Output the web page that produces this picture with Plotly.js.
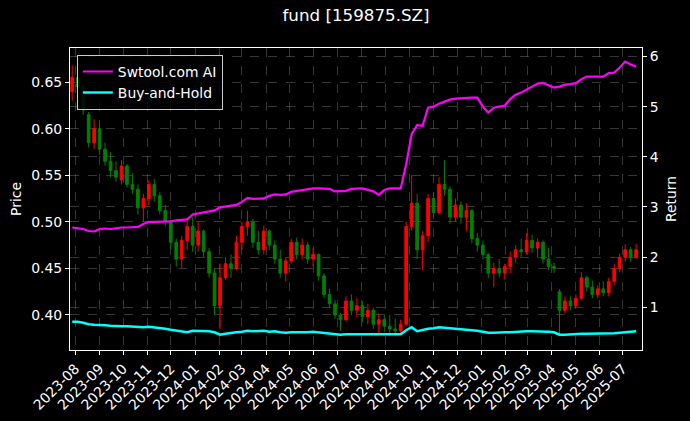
<!DOCTYPE html>
<html>
<head>
<meta charset="utf-8">
<script src="https://cdn.plot.ly/plotly-3.0.1.min.js"></script>
<style>html,body{margin:0;padding:0;background:#000;}#chart{width:690px;height:421px;}</style>
</head>
<body>
<div id="chart"></div>
<script>
const dates = [
"2023-07-28","2023-08-04","2023-08-11","2023-08-18","2023-08-25","2023-09-01","2023-09-08","2023-09-15","2023-09-22","2023-09-29",
"2023-10-06","2023-10-13","2023-10-20","2023-10-27","2023-11-03","2023-11-10","2023-11-17","2023-11-24","2023-12-01","2023-12-08",
"2023-12-15","2023-12-22","2023-12-29","2024-01-05","2024-01-12","2024-01-19","2024-01-26","2024-02-02","2024-02-09","2024-02-16",
"2024-02-23","2024-03-01","2024-03-08","2024-03-15","2024-03-22","2024-03-29","2024-04-05","2024-04-12","2024-04-19","2024-04-26",
"2024-05-03","2024-05-10","2024-05-17","2024-05-24","2024-05-31","2024-06-07","2024-06-14","2024-06-21","2024-06-28","2024-07-05",
"2024-07-12","2024-07-19","2024-07-26","2024-08-02","2024-08-09","2024-08-16","2024-08-23","2024-08-30","2024-09-06","2024-09-13",
"2024-09-20","2024-09-27","2024-10-04","2024-10-11","2024-10-18","2024-10-25","2024-11-01","2024-11-08","2024-11-15","2024-11-22",
"2024-11-29","2024-12-06","2024-12-13","2024-12-20","2024-12-27","2025-01-03","2025-01-10","2025-01-17","2025-01-24","2025-01-31",
"2025-02-07","2025-02-14","2025-02-21","2025-02-28","2025-03-07","2025-03-14","2025-03-21","2025-03-28","2025-04-04","2025-04-11",
"2025-04-18","2025-04-25","2025-05-02","2025-05-09","2025-05-16","2025-05-23","2025-05-30","2025-06-06","2025-06-13","2025-06-20",
"2025-06-27","2025-07-04","2025-07-11","2025-07-18"];

const openP = [
0.640,0.655,0.645,0.615,0.585,0.600,0.578,0.565,0.555,0.545,
0.560,0.540,0.535,0.515,0.525,0.540,0.528,0.512,0.500,0.478,
0.460,0.480,0.495,0.475,0.490,0.468,0.445,0.410,0.440,0.455,
0.450,0.478,0.495,0.500,0.478,0.470,0.490,0.475,0.460,0.445,
0.458,0.478,0.465,0.475,0.460,0.465,0.442,0.422,0.412,0.400,
0.395,0.415,0.405,0.410,0.398,0.405,0.390,0.395,0.388,0.385,
0.383,0.390,0.495,0.520,0.470,0.485,0.525,0.510,0.540,0.535,
0.505,0.518,0.505,0.512,0.482,0.475,0.465,0.445,0.450,0.445,
0.452,0.462,0.470,0.468,0.480,0.472,0.478,0.460,0.452,0.425,
0.405,0.415,0.410,0.418,0.440,0.430,0.422,0.428,0.424,0.436,
0.450,0.462,0.470,0.462];

const highP = [
0.668,0.670,0.648,0.618,0.610,0.607,0.585,0.575,0.565,0.566,
0.562,0.552,0.540,0.530,0.545,0.546,0.532,0.518,0.502,0.482,
0.485,0.505,0.505,0.500,0.492,0.472,0.450,0.455,0.462,0.465,
0.485,0.500,0.512,0.503,0.490,0.496,0.492,0.480,0.470,0.462,
0.482,0.483,0.482,0.478,0.472,0.466,0.445,0.428,0.416,0.402,
0.420,0.422,0.418,0.415,0.412,0.408,0.402,0.400,0.400,0.396,
0.395,0.500,0.550,0.530,0.490,0.530,0.532,0.548,0.566,0.538,
0.525,0.522,0.520,0.514,0.488,0.480,0.466,0.456,0.460,0.455,
0.468,0.475,0.482,0.488,0.486,0.482,0.480,0.472,0.456,0.428,
0.420,0.420,0.422,0.446,0.442,0.437,0.432,0.436,0.440,0.455,
0.466,0.476,0.473,0.476];

const lowP = [
0.630,0.640,0.615,0.580,0.578,0.572,0.560,0.548,0.543,0.540,
0.537,0.530,0.508,0.500,0.518,0.522,0.508,0.495,0.470,0.452,
0.450,0.470,0.468,0.468,0.462,0.440,0.400,0.385,0.438,0.440,
0.448,0.470,0.485,0.472,0.465,0.465,0.470,0.455,0.440,0.436,
0.455,0.460,0.460,0.455,0.452,0.437,0.418,0.408,0.396,0.383,
0.393,0.400,0.398,0.392,0.390,0.385,0.380,0.382,0.378,0.378,
0.380,0.388,0.490,0.460,0.448,0.478,0.505,0.508,0.528,0.498,
0.500,0.498,0.490,0.477,0.468,0.460,0.440,0.430,0.440,0.438,
0.445,0.456,0.462,0.465,0.467,0.462,0.455,0.448,0.445,0.380,
0.402,0.405,0.408,0.416,0.425,0.418,0.418,0.420,0.420,0.432,
0.446,0.457,0.457,0.460];

const closeP = [
0.655,0.645,0.620,0.585,0.600,0.578,0.565,0.555,0.548,0.560,
0.540,0.535,0.515,0.525,0.540,0.528,0.512,0.500,0.478,0.460,
0.480,0.495,0.475,0.490,0.468,0.445,0.410,0.440,0.455,0.450,
0.478,0.495,0.500,0.478,0.470,0.490,0.475,0.460,0.445,0.458,
0.478,0.465,0.475,0.460,0.465,0.442,0.422,0.412,0.400,0.395,
0.415,0.405,0.410,0.398,0.405,0.390,0.395,0.388,0.385,0.383,
0.390,0.495,0.520,0.470,0.485,0.525,0.510,0.540,0.535,0.505,
0.518,0.505,0.512,0.482,0.475,0.465,0.445,0.450,0.445,0.452,
0.462,0.470,0.468,0.480,0.472,0.478,0.460,0.452,0.450,0.405,
0.415,0.410,0.418,0.440,0.430,0.422,0.428,0.424,0.436,0.450,
0.462,0.470,0.462,0.470];

const aiReturn = [
2.59,2.58,2.56,2.52,2.51,2.56,2.57,2.56,2.58,2.59,
2.59,2.60,2.60,2.66,2.70,2.70,2.70,2.71,2.71,2.73,
2.74,2.75,2.85,2.87,2.90,2.91,2.93,2.99,3.01,3.02,
3.04,3.10,3.18,3.16,3.16,3.17,3.22,3.25,3.24,3.25,
3.30,3.32,3.34,3.36,3.37,3.37,3.37,3.36,3.31,3.31,
3.32,3.36,3.37,3.37,3.34,3.31,3.24,3.34,3.37,3.37,
3.37,3.85,4.45,4.63,4.62,4.98,5.00,5.06,5.10,5.14,
5.16,5.17,5.18,5.18,5.18,5.00,4.88,4.98,5.00,5.02,
5.15,5.24,5.28,5.34,5.40,5.46,5.47,5.42,5.38,5.40,
5.44,5.45,5.47,5.55,5.60,5.60,5.60,5.60,5.67,5.68,
5.78,5.90,5.84,5.80];

const bhReturn = [
0.71,0.71,0.69,0.66,0.65,0.65,0.64,0.63,0.62,0.62,
0.62,0.61,0.60,0.60,0.61,0.60,0.58,0.57,0.55,0.53,
0.52,0.50,0.53,0.53,0.52,0.52,0.50,0.45,0.47,0.49,
0.50,0.51,0.53,0.52,0.53,0.53,0.51,0.52,0.50,0.49,
0.50,0.50,0.49,0.50,0.51,0.50,0.48,0.47,0.46,0.45,
0.46,0.46,0.46,0.46,0.46,0.46,0.46,0.46,0.45,0.45,
0.46,0.54,0.60,0.52,0.55,0.57,0.58,0.60,0.59,0.58,
0.57,0.56,0.56,0.54,0.53,0.51,0.49,0.49,0.50,0.50,
0.50,0.51,0.51,0.52,0.52,0.52,0.51,0.51,0.50,0.45,
0.45,0.46,0.46,0.47,0.47,0.47,0.47,0.47,0.47,0.48,
0.49,0.50,0.51,0.52];

const priceTicks = [0.40,0.45,0.50,0.55,0.60,0.65];
const returnTicks = [1,2,3,4,5,6];

const FONT = "DejaVu Sans";
const gridColor = "rgba(150,150,150,0.45)";

const traces = [
  {
    type: "candlestick", x: dates, open: openP, high: highP, low: lowP, close: closeP,
    xaxis: "x", yaxis: "y", showlegend: false, hoverinfo: "skip",
    increasing: {line: {color: "#ff0000", width: 1}, fillcolor: "#ff0000"},
    decreasing: {line: {color: "#008000", width: 1}, fillcolor: "#008000"},
    whiskerwidth: 0
  },
  {
    type: "scatter", mode: "lines", x: dates, y: aiReturn, yaxis: "y2",
    name: "Swtool.com AI", line: {color: "#ff00ff", width: 2.2}
  },
  {
    type: "scatter", mode: "lines", x: dates, y: bhReturn, yaxis: "y2",
    name: "Buy-and-Hold", line: {color: "#00ffff", width: 2.5}
  }
];

const layout = {
  width: 690, height: 421,
  paper_bgcolor: "#000000", plot_bgcolor: "#000000",
  font: {family: FONT, color: "#ffffff", size: 13.9},
  margin: {l: 70, r: 48, t: 48, b: 71, pad: 0},
  title: {text: "fund [159875.SZ]", font: {family: FONT, size: 16.7, color: "#ffffff"},
          x: 0.5, xref: "paper", xanchor: "center", y: 0.964, yref: "container", yanchor: "middle"},
  showlegend: true,
  legend: {x: 0.012, y: 0.977, xanchor: "left", yanchor: "top", itemwidth: 30,
           bgcolor: "rgba(0,0,0,0.85)", bordercolor: "#cccccc", borderwidth: 1,
           font: {family: FONT, size: 13.9, color: "#ffffff"}, tracegroupgap: 2},
  xaxis: {
    type: "date", range: ["2023-07-25 04:00", "2025-07-25 12:00"],
    rangeslider: {visible: false},
    tickmode: "linear", tick0: "2023-08-01", dtick: "M1", tickformat: "%Y-%m",
    tickangle: -45, ticks: "outside", ticklen: 4, tickcolor: "#ffffff",
    showline: true, linecolor: "#ffffff", linewidth: 1, mirror: true,
    showgrid: true, gridcolor: gridColor, griddash: "dash", gridwidth: 0.8,
    zeroline: false, tickfont: {size: 13.9, color: "#ffffff"}
  },
  yaxis: {
    range: [0.3624, 0.6866], tickvals: priceTicks, tickformat: ".2f",
    ticks: "outside", ticklen: 4, tickcolor: "#ffffff",
    showline: true, linecolor: "#ffffff", linewidth: 1, mirror: true,
    showgrid: true, gridcolor: gridColor, griddash: "dash", gridwidth: 0.8,
    zeroline: false,
    title: {text: "Price", font: {size: 13.9, color: "#ffffff"}, standoff: 6}
  },
  yaxis2: {
    overlaying: "y", side: "right", range: [0.146, 6.17], tickvals: returnTicks,
    ticks: "outside", ticklen: 4, tickcolor: "#ffffff",
    showline: true, linecolor: "#ffffff", linewidth: 1,
    showgrid: true, gridcolor: gridColor, griddash: "dash", gridwidth: 0.8,
    zeroline: false,
    title: {text: "Return", font: {size: 13.9, color: "#ffffff"}, standoff: 8}
  }
};

Plotly.newPlot("chart", traces, layout, {displayModeBar: false, staticPlot: true});
</script>
</body>
</html>
